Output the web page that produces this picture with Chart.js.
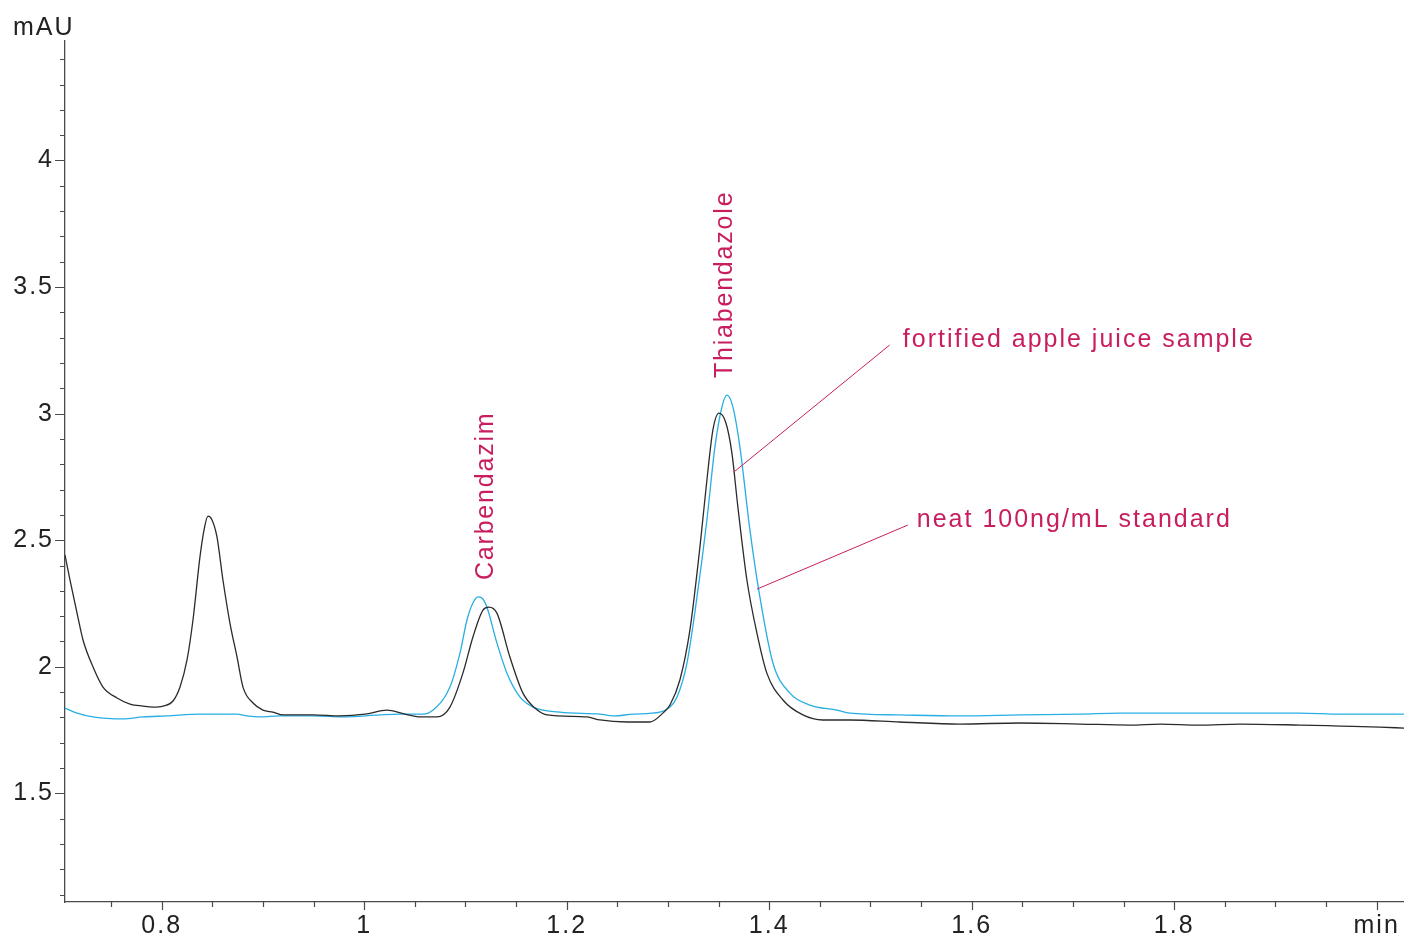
<!DOCTYPE html>
<html>
<head>
<meta charset="utf-8">
<script src="https://cdn.jsdelivr.net/npm/chart.js@4.4.1/dist/chart.umd.min.js"></script>
<style>
  html, body { margin: 0; padding: 0; background: #fff; }
  #chromChart { display: block; }
</style>
</head>
<body>
<canvas id="chromChart" width="1404" height="938"></canvas>
<script>
// fortified apple juice sample (black trace)
var sampleTime = [0.7045, 0.7094, 0.7164, 0.7223, 0.7322, 0.742, 0.7559, 0.7687, 0.7815, 0.7914, 0.8013, 0.8112,
    0.8181, 0.825, 0.8309, 0.8378, 0.8418, 0.8457, 0.8497, 0.8546, 0.8605, 0.8674, 0.8744, 0.8803, 0.8902, 0.9,
    0.9099, 0.9198, 0.9494, 0.976, 1.0008, 1.0225, 1.0403, 1.0551, 1.0719, 1.0847, 1.0975, 1.1074, 1.1173, 1.1232,
    1.1311, 1.1439, 1.1568, 1.1686, 1.1805, 1.22, 1.2328, 1.2595, 1.2822, 1.295, 1.302, 1.3118, 1.3217, 1.3316,
    1.3385, 1.3444, 1.3504, 1.3573, 1.3632, 1.3691, 1.378, 1.3879, 1.3977, 1.4136, 1.4333, 1.453, 1.4797, 1.529,
    1.588, 1.648, 1.707, 1.756, 1.786, 1.825, 1.865, 1.924, 1.964, 2.003, 2.027];
var sampleSignal = [2.442, 2.343, 2.212, 2.106, 1.999, 1.92, 1.877, 1.853, 1.845, 1.841, 1.845, 1.865,
    1.92, 2.027, 2.185, 2.434, 2.54, 2.595, 2.58, 2.513, 2.343, 2.173, 2.039, 1.92, 1.857, 1.829,
    1.821, 1.81, 1.81, 1.806, 1.813, 1.829, 1.813, 1.802, 1.802, 1.841, 1.975, 2.118, 2.224, 2.236,
    2.212, 2.039, 1.896, 1.837, 1.81, 1.802, 1.79, 1.782, 1.782, 1.817, 1.849, 1.948, 2.145, 2.473,
    2.738, 2.935, 3.002, 2.963, 2.844, 2.631, 2.343, 2.133, 1.975, 1.869, 1.81, 1.79, 1.79, 1.782,
    1.774, 1.778, 1.774, 1.77, 1.774, 1.77, 1.774, 1.77, 1.766, 1.762, 1.758];

// neat 100ng/mL standard (blue trace)
var standardTime = [0.7045, 0.7164, 0.7322, 0.7618, 0.7815, 0.8052, 0.8378, 0.8743, 0.8842, 0.897, 0.9168, 0.9494,
    0.979, 1.0156, 1.0353, 1.058, 1.068, 1.0847, 1.0946, 1.1015, 1.1074, 1.1124, 1.1173, 1.1212, 1.1311, 1.141,
    1.1538, 1.1667, 1.1933, 1.2328, 1.2457, 1.2654, 1.2921, 1.302, 1.309, 1.3188, 1.3287, 1.3385, 1.3464, 1.3533,
    1.3583, 1.3642, 1.3711, 1.381, 1.3908, 1.4037, 1.4205, 1.4402, 1.4669, 1.4797, 1.529, 1.588, 1.648, 1.707,
    1.746, 1.786, 1.865, 1.924, 1.964, 2.027];
var standardSignal = [1.837, 1.817, 1.802, 1.794, 1.802, 1.806, 1.813, 1.813, 1.806, 1.802, 1.806, 1.806,
    1.802, 1.81, 1.813, 1.813, 1.829, 1.92, 2.054, 2.185, 2.252, 2.276, 2.268, 2.236, 2.094, 1.975,
    1.881, 1.841, 1.821, 1.813, 1.806, 1.813, 1.821, 1.841, 1.881, 2.015, 2.276, 2.58, 2.868, 3.026,
    3.073, 3.026, 2.868, 2.54, 2.276, 2.015, 1.896, 1.849, 1.829, 1.817, 1.81, 1.806, 1.81, 1.813,
    1.817, 1.817, 1.817, 1.817, 1.813, 1.813];

var xMajorTicks = [0.8, 1, 1.2, 1.4, 1.6, 1.8, 2.0];
var xTickLabels = ['0.8', '1', '1.2', '1.4', '1.6', '1.8', 'min'];
var yMajorTicks = [1.5, 2, 2.5, 3, 3.5, 4];
var yTickLabels = ['1.5', '2', '2.5', '3', '3.5', '4'];

var peakNames = ['Carbendazim', 'Thiabendazole'];
var traceNames = ['fortified apple juice sample', 'neat 100ng/mL standard'];

var magenta = '#c81e5f';
var axisColor = '#4a4a4a';

function toPoints(xs, ys) {
    return xs.map(function (x, i) { return { x: x, y: ys[i] }; });
}

function stepList(from, to, step) {
    var out = [];
    for (var v = from; v <= to + 1e-9; v += step) out.push(Math.round(v * 1000) / 1000);
    return out;
}

var xMinor = stepList(0.75, 2.0, 0.05);
var yMinor = stepList(1.1, 4.4, 0.1);

function isMajor(list, v) {
    return list.some(function (m) { return Math.abs(m - v) < 1e-6; });
}

// tick marks, mAU label and peak/trace annotations
var decorations = {
    id: 'decorations',
    beforeDraw: function (chart) {
        // wider spacing for the axis numbers, like the instrument printout
        chart.ctx.letterSpacing = '2px';
    },
    afterDraw: function (chart) {
        var ctx = chart.ctx;
        var xs = chart.scales.x, ys = chart.scales.y;
        var area = chart.chartArea;
        ctx.save();
        ctx.strokeStyle = axisColor;
        ctx.lineWidth = 1.2;
        ctx.beginPath();
        xMinor.forEach(function (v) {
            var px = Math.round(xs.getPixelForValue(v)) + 0.5;
            var len = isMajor(xMajorTicks, v) ? 8 : 5;
            ctx.moveTo(px, area.bottom);
            ctx.lineTo(px, area.bottom + len);
        });
        yMinor.forEach(function (v) {
            var py = Math.round(ys.getPixelForValue(v)) + 0.5;
            var len = isMajor(yMajorTicks, v) ? 10 : 5;
            ctx.moveTo(area.left, py);
            ctx.lineTo(area.left - len, py);
        });
        ctx.stroke();

        ctx.fillStyle = '#222';
        ctx.font = '25px "Liberation Sans", Arial, sans-serif';
        ctx.letterSpacing = '2px';
        ctx.textAlign = 'left';
        ctx.textBaseline = 'alphabetic';
        ctx.fillText('mAU', 13, 35);

        // leader lines
        ctx.strokeStyle = magenta;
        ctx.lineWidth = 1;
        ctx.beginPath();
        ctx.moveTo(xs.getPixelForValue(1.519), ys.getPixelForValue(3.271));
        ctx.lineTo(xs.getPixelForValue(1.365), ys.getPixelForValue(2.769));
        ctx.moveTo(xs.getPixelForValue(1.537), ys.getPixelForValue(2.56));
        ctx.lineTo(xs.getPixelForValue(1.388), ys.getPixelForValue(2.307));
        ctx.stroke();

        ctx.fillStyle = magenta;
        ctx.letterSpacing = '2px';
        ctx.fillText(traceNames[0], xs.getPixelForValue(1.532), ys.getPixelForValue(3.263));
        ctx.fillText(traceNames[1], xs.getPixelForValue(1.5458), ys.getPixelForValue(2.552));

        ctx.letterSpacing = '1.8px';
        [[peakNames[0], 1.1272, 2.3427], [peakNames[1], 1.3632, 3.1405]].forEach(function (p) {
            ctx.save();
            ctx.translate(xs.getPixelForValue(p[1]), ys.getPixelForValue(p[2]));
            ctx.rotate(-Math.PI / 2);
            ctx.fillText(p[0], 0, 0);
            ctx.restore();
        });
        ctx.restore();
    }
};

var tickFont = { family: '"Liberation Sans", Arial, sans-serif', size: 25 };

new Chart(document.getElementById('chromChart').getContext('2d'), {
    type: 'line',
    data: {
        datasets: [{
            label: traceNames[0],
            data: toPoints(sampleTime, sampleSignal),
            borderColor: '#2b2b2b',
            borderWidth: 1.3,
            pointRadius: 0,
            cubicInterpolationMode: 'monotone',
            fill: false
        }, {
            label: traceNames[1],
            data: toPoints(standardTime, standardSignal),
            borderColor: '#27aee3',
            borderWidth: 1.3,
            pointRadius: 0,
            cubicInterpolationMode: 'monotone',
            fill: false
        }]
    },
    options: {
        responsive: false,
        animation: false,
        layout: { padding: { top: 41, right: 0, left: 0, bottom: 0 } },
        plugins: {
            legend: { display: false },
            tooltip: { enabled: false }
        },
        scales: {
            x: {
                type: 'linear',
                min: 0.7045,
                max: 2.027,
                grid: { display: false },
                border: { display: true, color: axisColor, width: 1.3 },
                afterBuildTicks: function (scale) {
                    scale.ticks = xMajorTicks.map(function (v) { return { value: v }; });
                },
                afterFit: function (scale) { scale.height = 36; },
                ticks: {
                    autoSkip: false,
                    maxRotation: 0,
                    padding: 1,
                    color: '#222',
                    font: tickFont,
                    callback: function (value) {
                        var i = xMajorTicks.findIndex(function (m) { return Math.abs(m - value) < 1e-6; });
                        return i >= 0 ? xTickLabels[i] : '';
                    }
                }
            },
            y: {
                type: 'linear',
                min: 1.071,
                max: 4.472,
                grid: { display: false },
                border: { display: true, color: axisColor, width: 1.3 },
                afterBuildTicks: function (scale) {
                    scale.ticks = yMajorTicks.map(function (v) { return { value: v }; });
                },
                afterFit: function (scale) { scale.width = 65; },
                ticks: {
                    autoSkip: false,
                    padding: 3,
                    color: '#222',
                    font: tickFont,
                    callback: function (value) {
                        var i = yMajorTicks.findIndex(function (m) { return Math.abs(m - value) < 1e-6; });
                        return i >= 0 ? yTickLabels[i] : '';
                    }
                }
            }
        }
    },
    plugins: [decorations]
});
</script>
</body>
</html>
